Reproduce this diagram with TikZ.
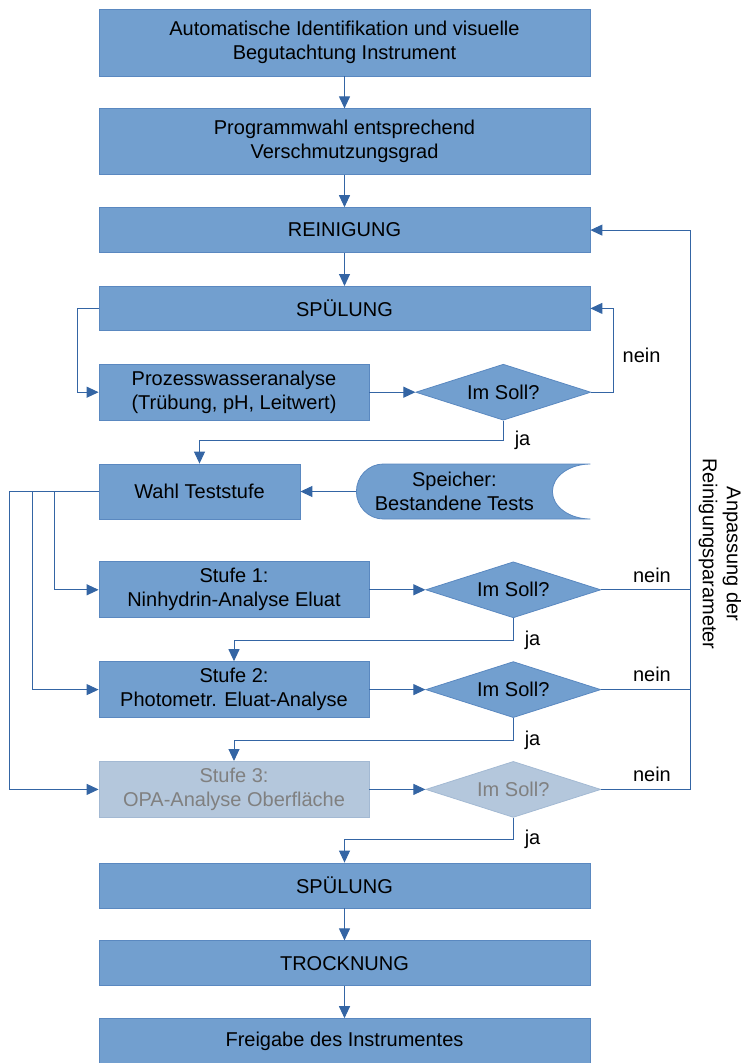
\documentclass[tikz,border=0pt]{standalone}
\usepackage{fontspec}
\setmainfont{Liberation Sans}
\usetikzlibrary{positioning,arrows.meta,calc,shapes.geometric}
\definecolor{box}{HTML}{729FCF}
\definecolor{rim}{HTML}{5A88C0}
\definecolor{wire}{HTML}{3465A4}
\definecolor{pale}{HTML}{B4C7DC}
\definecolor{palerim}{HTML}{A3B9D3}
\definecolor{muted}{HTML}{808080}

\begin{document}
\begin{tikzpicture}[
  x=1pt,y=1pt,
  font=\fontsize{20}{24}\selectfont,
  blk/.style={draw=rim,fill=box,line width=0.8pt,minimum width=491pt,
              minimum height=45pt,align=center,inner sep=2pt,text=black},
  half/.style={blk,minimum width=270pt,minimum height=56pt},
  ask/.style={diamond,aspect=3,draw=rim,fill=box,line width=0.8pt,
              minimum width=175pt,minimum height=56pt,inner sep=0pt},
  off/.style={draw=palerim,fill=pale,text=muted},
  sig/.style={-{Triangle[length=12pt,width=11pt]},line width=1pt,draw=wire},
  lbl/.style={inner sep=1pt,text=black},
]
\useasboundingbox (0,0) rectangle (741,-1063);

% ---------------------------------------------------------------- intake
\node[blk,minimum height=67pt] (b1) at (344.5,-42.5)
  {Automatische Identifikation und visuelle\\Begutachtung Instrument};
\node[blk,minimum height=66pt,below=32pt of b1] (b2)
  {Programmwahl entsprechend\\Verschmutzungsgrad};
\node[blk,below=32pt of b2]                    (b3) {REINIGUNG};
\node[blk,minimum height=44pt,below=33pt of b3] (b4) {SPÜLUNG};

\foreach \i/\j in {b1/b2,b2/b3,b3/b4} \draw[sig] (\i) -- (\j);

% ---------------------------------------------------------- rinse check
\node[half,below=33pt of b4.south west,anchor=north west] (pw)
  {Prozesswasseranalyse\\(Trübung, pH, Leitwert)};
\node[ask,right=46pt of pw] (d1) {Im Soll?};

\draw[sig] (b4.west) -- ++(-21,0) |- (pw.west);
\draw[sig] (pw) -- (d1);
\draw[sig] (d1.east) -- ++(22,0) |- node[lbl,pos=0.22,right=8pt] {nein} (b4.east);

% ------------------------------------------------------- test selection
\node[half,minimum width=201pt,minimum height=55pt,
      below=43pt of pw.south west,anchor=north west] (ws) {Wahl Teststufe};

% stored data, passed tests
\coordinate (spw) at ($(ws.east)+(56,0)$);
\draw[draw=rim,fill=box,line width=0.8pt] ($(spw)+(27,27.5)$) -- ++(207,0)
  arc[start angle=90,end angle=270,x radius=38,y radius=27.5] -- ++(-207,0)
  arc[start angle=270,end angle=90,x radius=27,y radius=27.5] -- cycle;
\node[lbl,align=center] (sp) at ($(spw)+(98,0)$) {Speicher:\\Bestandene Tests};
\draw[sig] (spw) -- (ws.east);

\draw[sig] (d1.south) -- ++(0,-20) node[lbl,right=10pt] {ja} -| (ws.north);

% ---------------------------------------------------------------- stages
\node[half,below=42pt of ws.south west,anchor=north west] (st1)
  {Stufe 1:\\Ninhydrin-Analyse Eluat};
\node[half,below=43pt of st1]     (st2) {Stufe 2:\\Photometr. Eluat-Analyse};
\node[half,off,below=43pt of st2] (st3) {Stufe 3:\\OPA-Analyse Oberfläche};
\node[ask,right=56pt of st1]      (d2) {Im Soll?};
\node[ask,right=56pt of st2]      (d3) {Im Soll?};
\node[ask,off,right=56pt of st3]  (d4) {Im Soll?};

\foreach \dx/\t in {-44/st1,-66/st2,-89/st3} \draw[sig] (ws.west) -- ++(\dx,0) |- (\t.west);
\foreach \i/\j in {st1/d2,st2/d3,st3/d4} \draw[sig] (\i) -- (\j);

% ja down to the next stage
\draw[sig] (d2.south) -- ++(0,-22) node[lbl,right=10pt] {ja} -| (st2.north);
\draw[sig] (d3.south) -- ++(0,-22) node[lbl,right=10pt] {ja} -| (st3.north);

% nein back up to the cleaning
\draw[sig] (d4.east) -- node[lbl,above=6pt,pos=0.57] {nein} ++(89,0) coordinate (fb) |- (b3.east);
\draw[draw=wire,line width=1pt] (d2.east) -- node[lbl,above=6pt,pos=0.57] {nein} (d2.east -| fb);
\draw[draw=wire,line width=1pt] (d3.east) -- node[lbl,above=6pt,pos=0.57] {nein} (d3.east -| fb);
\node[lbl,rotate=-90,align=center] (fbl) at (720,-554) {Anpassung der\\Reinigungsparameter};

% ---------------------------------------------------------------- finish
\node[blk] (b5) at (344.5,-885.5) {SPÜLUNG};
\node[blk,below=32pt of b5] (b6) {TROCKNUNG};
\node[blk,below=32pt of b6] (b7) {Freigabe des Instrumentes};

\draw[sig] (d4.south) -- ++(0,-22) node[lbl,right=10pt] {ja} -| (b5.north);
\foreach \i/\j in {b5/b6,b6/b7} \draw[sig] (\i) -- (\j);

\end{tikzpicture}
\end{document}
